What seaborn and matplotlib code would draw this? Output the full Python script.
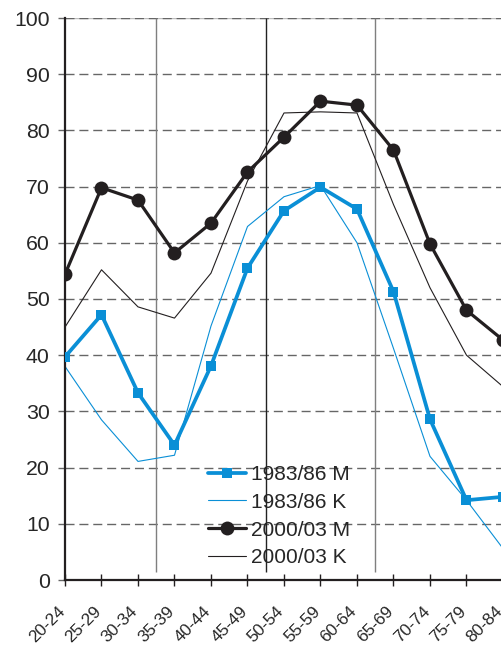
import numpy as np
import pandas as pd
import matplotlib
matplotlib.use('Agg')
import matplotlib.pyplot as plt
import matplotlib.transforms as mtransforms
import seaborn as sns

# --- Data ---
age_groups = ['20-24', '25-29', '30-34', '35-39', '40-44', '45-49', '50-54',
              '55-59', '60-64', '65-69', '70-74', '75-79', '80-84']

m_1983 = [39.7, 47.2, 33.3, 24.0, 38.1, 55.5, 65.7, 69.9, 66.0, 51.3, 28.6, 14.2, 14.8]
k_1983 = [38.0, 28.5, 21.1, 22.2, 45.2, 62.9, 68.2, 70.2, 60.0, 41.2, 22.0, 14.2, 5.6]
m_2000 = [54.4, 69.8, 67.6, 58.2, 63.5, 72.6, 78.8, 85.2, 84.5, 76.5, 59.8, 48.0, 42.7]
k_2000 = [45.0, 55.2, 48.6, 46.6, 54.6, 71.0, 83.1, 83.3, 83.1, 66.8, 52.0, 40.0, 34.4]

series_labels = ['1983/86 M', '1983/86 K', '2000/03 M', '2000/03 K']
separators = [2.5, 5.5, 8.5]

BLUE = '#0a8fd6'
BLACK = '#231f20'

# --- Global aesthetics ---
sns.set_style('white')
plt.rcParams.update({
    'font.family': ['Liberation Sans', 'DejaVu Sans'],
    'font.size': 15,
    'axes.linewidth': 1.6,
})

x = np.arange(len(age_groups))
df = pd.DataFrame({'pos': x, 'm_1983': m_1983, 'k_1983': k_1983,
                   'm_2000': m_2000, 'k_2000': k_2000})

fig = plt.figure(figsize=(5.02, 6.48), dpi=100)
ax = fig.add_axes([65 / 502, 68 / 648, (503 - 65) / 502, 562 / 648])

# horizontal dashed grid (top line has a light solid line underneath)
ax.axhline(100, color='#bdbdbd', lw=1.0, zorder=0.9)
for yv in range(10, 101, 10):
    ax.axhline(yv, color='#666666', lw=1.0, ls=(0, (6.5, 3.5)), zorder=1)

# vertical separators between age bands
sep_colors = ['#7f7f7f', '#222222', '#7f7f7f']
for sx, sc in zip(separators, sep_colors):
    ax.vlines(sx, 1.5, 100, color=sc, lw=1.0, zorder=1.5)

sns.lineplot(data=df, x='pos', y='m_1983', ax=ax, color=BLUE, lw=2.7,
             marker='s', markersize=7, markeredgewidth=0, label=series_labels[0], zorder=3)
sns.lineplot(data=df, x='pos', y='k_1983', ax=ax, color=BLUE, lw=0.8,
             label=series_labels[1], zorder=2.5)
sns.lineplot(data=df, x='pos', y='m_2000', ax=ax, color=BLACK, lw=2.3,
             marker='o', markersize=10, markeredgewidth=0, label=series_labels[2], zorder=4)
sns.lineplot(data=df, x='pos', y='k_2000', ax=ax, color=BLACK, lw=0.8,
             label=series_labels[3], zorder=2.5)

ax.set_xlim(0, 11.98)
ax.set_ylim(0, 100)
ax.set_yticks(range(0, 101, 10))
ax.set_xticks(x)
ax.set_xticklabels(age_groups, rotation=45, ha='right', rotation_mode='anchor', fontsize=12.3)
ax.tick_params(axis='y', direction='out', length=5, width=1, color='#666666', pad=6, labelsize=15.3, left=True)
ax.tick_params(axis='x', direction='inout', length=9, width=1, color=BLACK, pad=6, bottom=True)
ax.set_xlabel('')
ax.set_ylabel('')

# nudge the rotated age labels down/left like the original
shift = mtransforms.ScaledTranslation(-8 / 100, -9 / 100, fig.dpi_scale_trans)
for lbl in ax.get_xticklabels():
    lbl.set_transform(lbl.get_transform() + shift)

for side in ['top', 'right']:
    ax.spines[side].set_visible(False)
for side in ['left', 'bottom']:
    ax.spines[side].set_color(BLACK)

ax.legend(loc='upper left', bbox_to_anchor=(208 / 502, 1 - 465 / 648), bbox_transform=fig.transFigure,
          frameon=False, fontsize=15, handlelength=1.8, handletextpad=0.25, labelspacing=0.42,
          borderpad=0, borderaxespad=0)

fig.savefig('out.png', dpi=100)
